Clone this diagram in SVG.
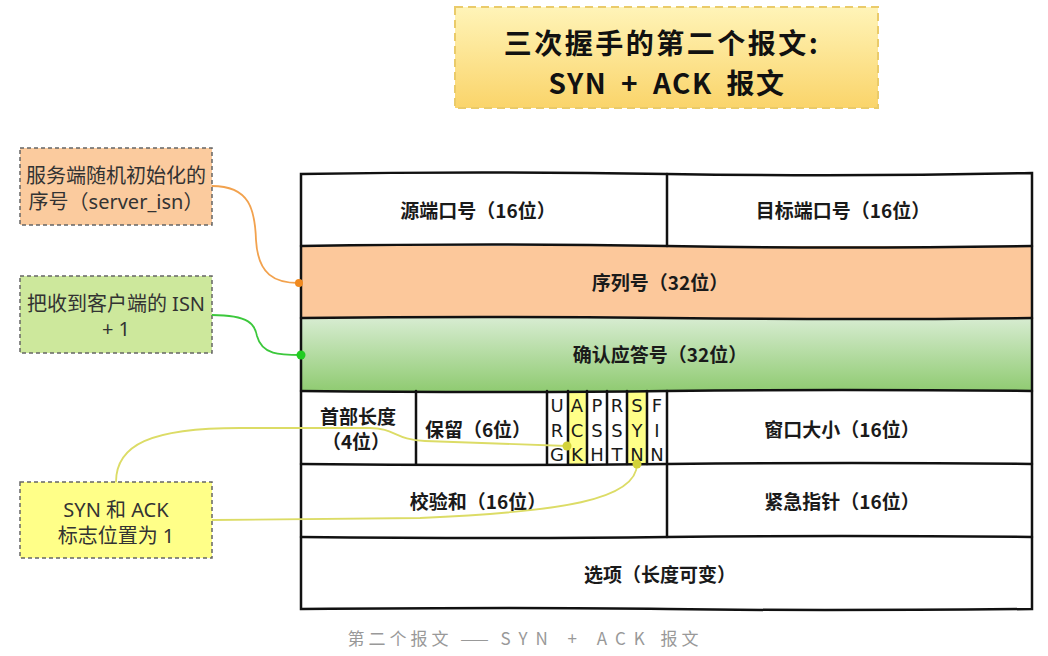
<svg xmlns="http://www.w3.org/2000/svg" width="1048" height="656" viewBox="0 0 1048 656">
<style>
.t{font-family:"Noto Sans CJK SC","Noto Sans",sans-serif;font-size:19px;font-weight:bold;fill:#1a1a1a;text-anchor:middle}
.n{font-family:"Noto Sans","Noto Sans CJK SC",sans-serif;font-size:20px;fill:#333;text-anchor:middle}
.f{font-family:"DejaVu Sans",sans-serif;font-size:18px;fill:#1a1a1a;text-anchor:middle}
.ttl{font-family:"Noto Sans CJK SC","Noto Sans",sans-serif;font-size:28px;font-weight:bold;fill:#111;text-anchor:middle}
.grid{stroke:#111;stroke-width:2.5;fill:none;stroke-linecap:round}
.note{stroke:#666;stroke-width:1.5;stroke-dasharray:4 3}
.cap{font-family:"Noto Sans CJK SC","Noto Sans",sans-serif;font-size:17px;fill:#999;letter-spacing:4px;text-anchor:middle}
</style>
<defs>
<linearGradient id="gTitle" x1="0" y1="0" x2="0" y2="1"><stop offset="0" stop-color="#FFF4B8"/><stop offset="1" stop-color="#FAD46A"/></linearGradient>
<linearGradient id="gGreen" x1="0" y1="0" x2="0" y2="1"><stop offset="0" stop-color="#D7ECD1"/><stop offset="1" stop-color="#90CB72"/></linearGradient>
</defs>
<rect width="1048" height="656" fill="#fff"/>

<g id="title">
<rect x="455" y="7" width="423" height="101" fill="url(#gTitle)" stroke="#EACB6A" stroke-width="2" stroke-dasharray="8 5"/>
<text class="ttl" x="662" y="54" letter-spacing="2.5">三次握手的第二个报文:</text>
<text class="ttl" x="667" y="94" letter-spacing="1.5" word-spacing="6">SYN + ACK 报文</text>
</g>

<g id="table">
<rect x="301" y="246" width="731" height="72" fill="#FCC89B"/>
<rect x="301" y="318" width="731" height="73" fill="url(#gGreen)"/>
<rect x="568" y="391" width="19" height="73" fill="#FFFF88"/>
<rect x="627" y="391" width="20" height="73" fill="#FFFF88"/>
<path class="grid" d="M301,174 Q480,171 667,174 T1032,173 L1032,609 Q800,611 667,609 T301,609 Z"/>
<path class="grid" d="M301,246 Q500,243 667,246 T1032,246"/>
<path class="grid" d="M301,318 Q480,316 667,318 T1032,318"/>
<path class="grid" d="M301,391 Q500,393 667,391 T1032,391"/>
<path class="grid" d="M301,464 Q480,466 667,464 T1032,464"/>
<path class="grid" d="M301,537 Q500,539 667,537 T1032,537"/>
<path class="grid" d="M667,174 L667,246"/>
<path class="grid" d="M416,391 L416,464"/>
<path class="grid" d="M547,391 L547,464 M568,391 L568,464 M587,391 L587,464 M607,391 L607,464 M627,391 L627,464 M647,391 L647,464 M667,391 L667,537"/>
</g>

<g id="cells">
<text class="t" x="478" y="218">源端口号（16位）</text>
<text class="t" x="843" y="218">目标端口号（16位）</text>
<text class="t" x="660" y="290">序列号（32位）</text>
<text class="t" x="660" y="362">确认应答号（32位）</text>
<text class="t" x="358" y="424">首部长度</text>
<text class="t" x="356" y="449">（4位）</text>
<text class="t" x="478" y="437">保留（6位）</text>
<text class="t" x="842" y="437">窗口大小（16位）</text>
<text class="t" x="478" y="509">校验和（16位）</text>
<text class="t" x="842" y="509">紧急指针（16位）</text>
<text class="t" x="660" y="582">选项（长度可变）</text>
</g>

<g id="flags">
<text class="f" x="557" y="412">U</text><text class="f" x="557" y="437">R</text><text class="f" x="557" y="461">G</text>
<text class="f" x="577" y="412">A</text><text class="f" x="577" y="437">C</text><text class="f" x="577" y="461">K</text>
<text class="f" x="597" y="412">P</text><text class="f" x="597" y="437">S</text><text class="f" x="597" y="461">H</text>
<text class="f" x="617" y="412">R</text><text class="f" x="617" y="437">S</text><text class="f" x="617" y="461">T</text>
<text class="f" x="637" y="412">S</text><text class="f" x="637" y="437">Y</text><text class="f" x="637" y="461">N</text>
<text class="f" x="657" y="412">F</text><text class="f" x="657" y="437">I</text><text class="f" x="657" y="461">N</text>
</g>

<g id="note-isn">
<rect class="note" x="20" y="148" width="192" height="77" fill="#FBCB9E"/>
<text class="n" x="116" y="183">服务端随机初始化的</text>
<text class="n" x="116" y="209">序号（server_isn）</text>
</g>
<g id="note-ack">
<rect class="note" x="20" y="276" width="192" height="77" fill="#CDE89C"/>
<text class="n" x="116" y="311">把收到客户端的 ISN</text>
<text class="n" x="116" y="336">+ 1</text>
</g>
<g id="note-flags">
<rect class="note" x="20" y="482" width="192" height="76" fill="#FFFF88"/>
<text class="n" x="116" y="517">SYN 和 ACK</text>
<text class="n" x="116" y="543">标志位置为 1</text>
</g>

<g id="connectors" fill="none" stroke-width="1.8">
<path d="M212,186 C250,186 255,210 256,240 C258,275 275,283 299,283" stroke="#F2A24E"/>
<circle cx="299" cy="283" r="4" fill="#F08A20" stroke="none"/>
<path d="M212,315 C250,315 255,325 257,336 C262,355 280,355 301,355" stroke="#3CC83C"/>
<circle cx="301" cy="355" r="4.5" fill="#22CC22" stroke="none"/>
<path d="M116,482 C116,445 150,428 240,428 L370,428 C395,428 395,440 425,441 L567,446" stroke="#DCDC66"/>
<circle cx="567" cy="446" r="4.5" fill="#D2D23A" stroke="none"/>
<path d="M212,520 L420,518 C560,512 637,500 637,464" stroke="#DCDC66"/>
<circle cx="637" cy="464" r="4.5" fill="#D2D23A" stroke="none"/>
</g>

<text class="cap" x="525" y="645">第二个报文 —— <tspan letter-spacing="8">SYN + ACK</tspan> 报文</text>
</svg>
